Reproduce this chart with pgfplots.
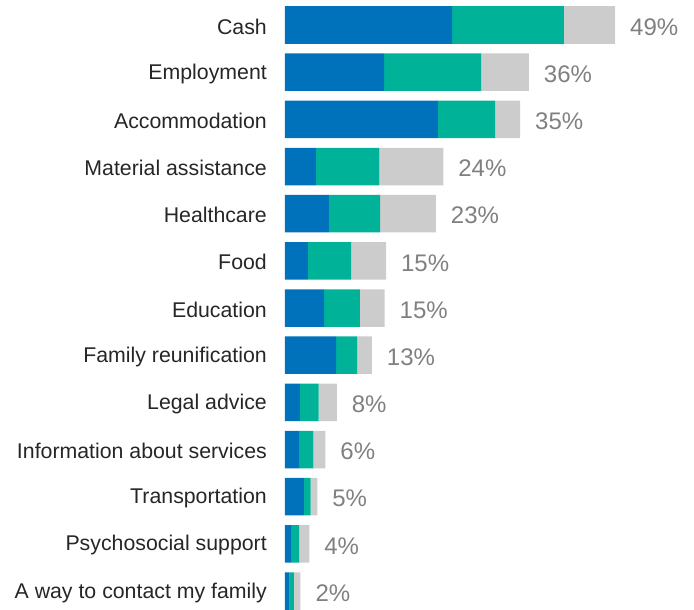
\documentclass[border=0pt]{standalone}
\usepackage{pgfplots}
\pgfplotsset{compat=1.18}
\usepackage{pgfplotstable}
\usepackage{fontspec}
\setmainfont{Liberation Sans}
\definecolor{cblue}{HTML}{0072BC}
\definecolor{cteal}{HTML}{00B398}
\definecolor{cgrey}{HTML}{CCCCCC}
\definecolor{cdark}{HTML}{262626}
\definecolor{cpct}{HTML}{808080}
\pgfplotstableread{
y blue teal grey tiny tot
0 24.8 16.6 7.6 0.001 49
1 14.7 14.4 7.1 0.001 36
2 22.7 8.5 3.7 0.001 35
3 4.6 9.4 9.5 0.001 24
4 6.5 7.6 8.3 0.001 23
5 3.4 6.4 5.2 0.001 15
6 5.8 5.3 3.7 0.001 15
7 7.6 3.1 2.2 0.001 13
8 2.2 2.8 2.7 0.001 8
9 2.1 2.1 1.8 0.001 6
10 2.8 1.0 1.0 0.001 5
11 0.9 1.2 1.5 0.001 4
12 0.7 0.6 1.0 0.001 2
}\datatable
\begin{document}
\begin{tikzpicture}
\begin{axis}[
  name=ax, scale only axis, width=409pt, height=609pt,
  xbar stacked, bar width=37.5pt,
  xmin=0, xmax=60.7, ymin=-0.53, ymax=12.38, y dir=reverse,
  axis line style={draw=none}, xtick=\empty,
  ytick={0,...,12},
  yticklabels={Cash, Employment, Accommodation, Material assistance, Healthcare, Food, Education, Family reunification, Legal advice, Information about services, Transportation, Psychosocial support, A way to contact my family},
  major tick length=0pt,
  yticklabel style={font=\fontsize{21.3}{25}\selectfont, text=cdark, inner sep=0pt, xshift=-18pt, yshift=-1.5pt},
  clip=false,
]
\addplot[fill=cblue, draw=none] table[x=blue, y=y] {\datatable};
\addplot[fill=cteal, draw=none] table[x=teal, y=y] {\datatable};
\addplot[fill=cgrey, draw=none] table[x=grey, y=y] {\datatable};
\addplot[fill=white, fill opacity=0, draw=none,
  point meta=explicit symbolic,
  nodes near coords={\makebox[0pt][l]{\pgfplotspointmeta\%}},
  every node near coord/.append style={inner sep=0pt, xshift=15pt, yshift=-2pt, font=\fontsize{24}{28}\selectfont, text=cpct, text opacity=1}]
  table[x=tiny, y=y, meta=tot] {\datatable};
\end{axis}
\pgfresetboundingbox
\path ([xshift=-285pt]ax.south west) rectangle (ax.north east);
\end{tikzpicture}
\end{document}
